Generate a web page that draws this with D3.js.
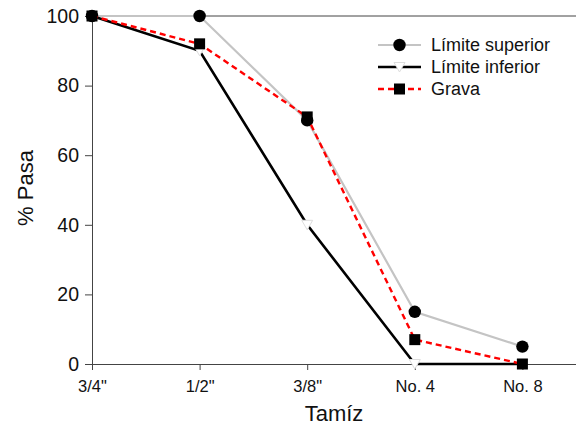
<!DOCTYPE html>
<html lang="en">
<head>
<meta charset="UTF-8">
<title>Tamiz</title>
<script src="https://d3js.org/d3.v7.min.js"></script>
<style>
  body { margin: 0; background: #fff; }
  svg { display: block; font-family: "Liberation Sans", Arial, sans-serif; }
</style>
</head>
<body>
<svg id="chart" width="576" height="427"></svg>
<script>
// sieve names and passing percentages
var tamices = ['3/4"', '1/2"', '3/8"', "No. 4", "No. 8"];
var superior = [100, 100, 70, 15, 5];
var inferior = [100, 90, 40, 0, 0];
var grava = [100, 92, 71, 7, 0];
var yTicks = [0, 20, 40, 60, 80, 100];

var svg = d3.select("#chart");
var plotLeft = 92, plotRight = 576, plotTop = 16, plotBottom = 364;

// x runs past the last sieve, the frame is cut by the image edge
var x = d3.scaleLinear().domain([0, 4.5]).range([plotLeft, plotLeft + 4.5 * 107.6]);
var y = d3.scaleLinear().domain([0, 100]).range([plotBottom, plotTop]);

// frame top line
svg.append("line")
    .attr("x1", plotLeft).attr("x2", plotRight)
    .attr("y1", y(100)).attr("y2", y(100))
    .attr("stroke", "#444").attr("stroke-width", 1);

var yAxis = svg.append("g")
    .attr("transform", "translate(" + plotLeft + ",0)")
    .call(d3.axisLeft(y).tickValues(yTicks).tickSize(7).tickSizeOuter(0).tickPadding(6));
yAxis.select(".domain").attr("stroke", "#444");
yAxis.selectAll(".tick line").attr("stroke", "#444");
yAxis.selectAll("text").attr("font-size", 19.5).attr("fill", "#111");

var xAxis = svg.append("g")
    .attr("transform", "translate(0," + plotBottom + ")")
    .call(d3.axisBottom(x).tickValues(d3.range(tamices.length))
        .tickFormat(i => tamices[i]).tickSize(6).tickSizeOuter(0).tickPadding(10));
xAxis.select(".domain").attr("stroke", "#444");
xAxis.selectAll(".tick line").attr("stroke", "#444");
xAxis.selectAll("text").attr("font-size", 16.5).attr("fill", "#111");

svg.append("text")
    .attr("x", 334).attr("y", 421)
    .attr("text-anchor", "middle")
    .attr("font-size", 22)
    .attr("fill", "#111")
    .text("Tamíz");

svg.append("text")
    .attr("transform", "translate(33,188) rotate(-90)")
    .attr("text-anchor", "middle")
    .attr("font-size", 22)
    .attr("fill", "#111")
    .text("% Pasa");

var line = d3.line().x((d, i) => x(i)).y(d => y(d));

var series = [
    { name: "Límite superior", values: superior, color: "#c4c4c4", width: 2.2, dash: null, marker: "circle" },
    { name: "Límite inferior", values: inferior, color: "#000", width: 2.6, dash: null, marker: "triangle" },
    { name: "Grava", values: grava, color: "#ff0000", width: 2.4, dash: "6,4", marker: "square" }
];

function drawMarker(g, type, cx, cy) {
    if (type == "circle") {
        g.append("circle").attr("cx", cx).attr("cy", cy).attr("r", 6.2).attr("fill", "#000");
    } else if (type == "square") {
        g.append("rect").attr("x", cx - 5.5).attr("y", cy - 5.5)
            .attr("width", 11).attr("height", 11).attr("fill", "#000");
    } else {
        g.append("path")
            .attr("d", "M" + (cx - 5.5) + "," + (cy - 4.5) + "L" + (cx + 5.5) + "," + (cy - 4.5) + "L" + cx + "," + (cy + 5) + "Z")
            .attr("fill", "#fff").attr("stroke", "#ddd").attr("stroke-width", 1);
    }
}

series.forEach(s => {
    var g = svg.append("g");
    g.append("path")
        .attr("d", line(s.values))
        .attr("fill", "none")
        .attr("stroke", s.color)
        .attr("stroke-width", s.width)
        .attr("stroke-dasharray", s.dash);
    s.values.forEach((v, i) => drawMarker(g, s.marker, x(i), y(v)));
});

// legend
var legend = svg.append("g");
series.forEach((s, i) => {
    var ly = 45 + i * 22;
    legend.append("line")
        .attr("x1", 378).attr("x2", 421)
        .attr("y1", ly).attr("y2", ly)
        .attr("stroke", s.color)
        .attr("stroke-width", s.width)
        .attr("stroke-dasharray", s.dash);
    drawMarker(legend, s.marker, 399.5, ly);
    legend.append("text")
        .attr("x", 431).attr("y", ly + 6)
        .attr("font-size", 18)
        .attr("fill", "#111")
        .text(s.name);
});
</script>
</body>
</html>
